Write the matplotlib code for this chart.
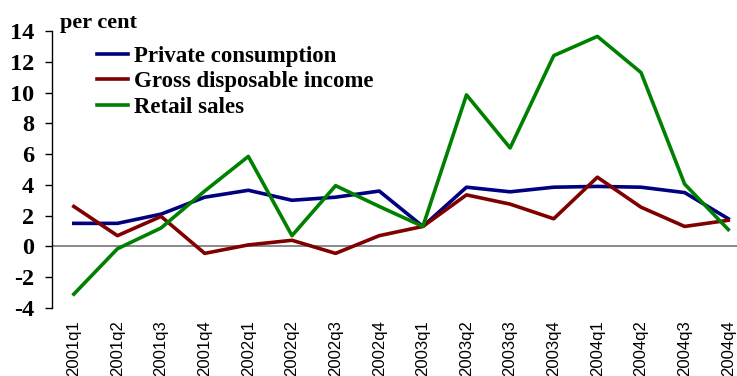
import matplotlib
matplotlib.use('Agg')
import matplotlib.pyplot as plt
from matplotlib.ticker import FuncFormatter

# Quarterly growth rates, per cent.

quarters = ['2001q1', '2001q2', '2001q3', '2001q4',
            '2002q1', '2002q2', '2002q3', '2002q4',
            '2003q1', '2003q2', '2003q3', '2003q4',
            '2004q1', '2004q2', '2004q3', '2004q4']

private_consumption = [1.5, 1.5, 2.1, 3.2, 3.65, 3.0, 3.2, 3.6,
                       1.3, 3.85, 3.55, 3.85, 3.9, 3.85, 3.5, 1.8]
gross_disposable_income = [2.6, 0.7, 1.95, -0.45, 0.1, 0.4, -0.45, 0.7,
                           1.3, 3.35, 2.75, 1.8, 4.5, 2.55, 1.3, 1.7]
retail_sales = [-3.1, -0.15, 1.2, 3.6, 5.85, 0.7, 3.95, 2.6,
                1.3, 9.85, 6.4, 12.4, 13.65, 11.3, 4.05, 1.1]

serif = 'Liberation Serif'

fig = plt.figure(figsize=(7.37, 3.76), dpi=100)
ax = fig.add_axes([52 / 737, (376 - 308) / 376, (737 - 52) / 737, 277 / 376])

x = range(len(quarters))
ax.plot(x, private_consumption, color='#000080', lw=2.6, label='Private consumption')
ax.plot(x, gross_disposable_income, color='#800000', lw=2.6, label='Gross disposable income')
ax.plot(x, retail_sales, color='#008000', lw=2.6, label='Retail sales')

ax.axhline(0, color='#808080', lw=1.3, zorder=0)

ax.set_ylim(-4, 14)
ax.set_yticks(range(-4, 15, 2))
ax.yaxis.set_major_formatter(FuncFormatter(lambda v, p: '%d' % v))
ax.set_xlim(-0.5, 15.2)
ax.set_xticks(list(x))
ax.set_xticklabels(quarters, rotation=90, family='Liberation Sans', fontsize=12,
                   va='top')
ax.tick_params(axis='x', length=0, pad=9)
ax.tick_params(axis='y', direction='out', length=5, width=1, pad=8)
for lbl in ax.get_yticklabels():
    lbl.set_family(serif)
    lbl.set_fontweight('bold')
    lbl.set_fontsize(17.5)

for side in ['top', 'right', 'bottom']:
    ax.spines[side].set_visible(False)
ax.spines['left'].set_linewidth(1)

fig.text(60 / 737, 1 - 28 / 376, 'per cent', family=serif, fontweight='bold',
         fontsize=16, va='baseline')

leg = ax.legend(loc='upper left', bbox_to_anchor=(0.052, 0.98), frameon=False,
                prop={'family': serif, 'weight': 'bold', 'size': 16.5},
                handlelength=1.35, handletextpad=0.28, labelspacing=0.2,
                borderaxespad=0)

fig.savefig('out.png', dpi=100)
